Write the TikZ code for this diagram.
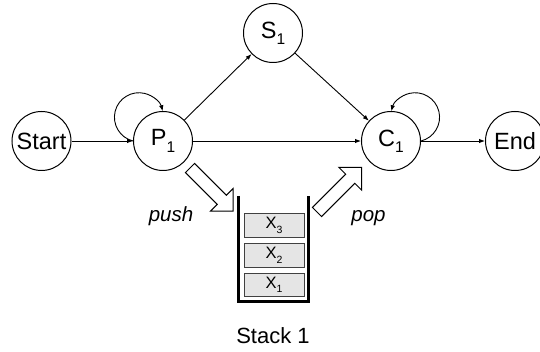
\documentclass[tikz,border=0pt]{standalone}
\usepackage{fontspec}
\setmainfont{Liberation Sans}
\usetikzlibrary{arrows.meta}
\newcommand\sbx[2]{\raisebox{-0.27em}{\fontsize{#1}{#1}\selectfont #2}}
\begin{document}
\begin{tikzpicture}[x=1pt,y=-1pt,
  state/.style={circle, draw, line width=1pt, minimum size=59pt, inner sep=0pt,
    font=\fontsize{23.5}{25}\selectfont},
  conn/.style={line width=0.9pt, -{Latex[length=6pt,width=4.5pt]}},
  blockarrow/.style={draw, line width=1pt, fill=white, line join=miter},
  wall/.style={line width=2.2pt},
  cell/.style={draw=black!75, fill=black!10, line width=0.9pt, minimum width=60pt,
    minimum height=23.5pt, inner sep=0pt, font=\fontsize{16.5}{16.5}\selectfont},
  lbl/.style={font=\fontsize{20.5}{22}\selectfont\itshape, anchor=base, inner sep=0pt},
  captext/.style={font=\fontsize{22}{24}\selectfont, anchor=base, inner sep=0pt}]
\useasboundingbox (0,0) rectangle (540,352);

\node[state] (start) at (41.5,141) {Start\hspace{1pt}};
\node[state] (p1) at (163,141) {P\sbx{15.5}{1}\hspace{4pt}};
\node[state] (s1) at (273,33) {S\sbx{15.5}{1}\hspace{4pt}};
\node[state] (c1) at (391,141) {C\sbx{15.5}{1}\hspace{4pt}};
\node[state] (end) at (515,141) {End};

\draw[conn] (start) -- (p1);
\draw[conn] (p1) -- (s1);
\draw[conn] (s1) -- (c1);
\draw[conn] (p1) -- (c1);
\draw[conn] (c1) -- (end);
\draw[conn] (p1.west) arc[start angle=256, end angle=14, radius=24.5pt];
\draw[conn] (c1.east) arc[start angle=284, end angle=526, radius=24.5pt];

% block arrows
\draw[blockarrow, shift={(190,168)}, rotate=-45]
  (0,6.5) -- (45,6.5) -- (45,16) -- (61,0) -- (45,-16) -- (45,-6.5) -- (0,-6.5) -- cycle;
\draw[blockarrow, shift={(317,212)}, rotate=45]
  (0,6.5) -- (47,6.5) -- (47,16) -- (63,0) -- (47,-16) -- (47,-6.5) -- (0,-6.5) -- cycle;

% stack
\draw[wall] (238.5,196) -- (238.5,301.5) -- (308.5,301.5) -- (308.5,196);
\node[cell] (x3) at (274,225.5) {X\sbx{10.5}{3}};
\node[cell] (x2) at (274,255.5) {X\sbx{10.5}{2}};
\node[cell] (x1) at (274,285) {X\sbx{10.5}{1}};

\node[lbl] (push) at (171,222) {push};
\node[lbl] (pop) at (368.5,222) {pop};
\node[captext] (stack) at (273,343) {Stack 1};
\end{tikzpicture}
\end{document}
